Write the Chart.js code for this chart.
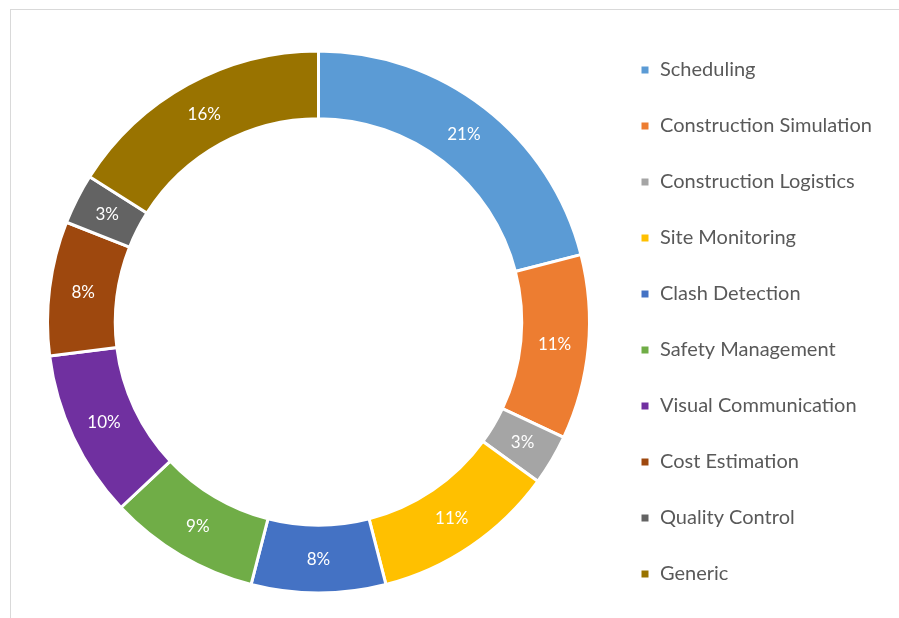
<!DOCTYPE html>
<html>
<head>
<meta charset="utf-8">
<script src="https://cdn.jsdelivr.net/npm/chart.js@4"></script>
<style>
  html, body { margin: 0; padding: 0; background: #fff; overflow: hidden; }
  .frame { position: absolute; left: 10px; top: 9px; width: 1000px; height: 1000px;
           border-top: 1px solid #d9d9d9; border-left: 1px solid #d9d9d9; }
  .wrap { position: absolute; left: 0; top: 0; width: 899px; height: 644px; }
</style>
</head>
<body>
<div class="frame"></div>
<div class="wrap"><canvas id="usesChart"></canvas></div>
<script>
const categories = ['Scheduling', 'Construction Simulation', 'Construction Logistics', 'Site Monitoring',
    'Clash Detection', 'Safety Management', 'Visual Communication', 'Cost Estimation',
    'Quality Control', 'Generic'];
const shares = [21, 11, 3, 11, 8, 9, 10, 8, 3, 16];
const colors = ['#5b9bd5', '#ed7d31', '#a5a5a5', '#ffc000', '#4472c4', '#70ad47', '#7030a0',
    '#9e480e', '#636363', '#997300'];

const legendFont = { family: 'Lato', size: 20 };

// work out right padding so the legend sits where it should
const mctx = document.createElement('canvas').getContext('2d');
mctx.font = legendFont.size + 'px ' + legendFont.family;
const widest = Math.max(...categories.map(c => mctx.measureText(c).width));
const legendPad = 36;
const legendLeft = 640 - legendPad;
const padRight = Math.max(0, 899 - legendLeft - (legendPad + 10 + legendFont.size / 2 + widest + 10));

const pctLabels = {
    id: 'pctLabels',
    afterDatasetsDraw(chart) {
        const ctx = chart.ctx;
        const meta = chart.getDatasetMeta(0);
        ctx.save();
        ctx.font = '17px Lato';
        ctx.fillStyle = '#ffffff';
        ctx.textAlign = 'center';
        ctx.textBaseline = 'middle';
        meta.data.forEach((arc, i) => {
            const p = arc.tooltipPosition();
            ctx.fillText(shares[i] + '%', p.x, p.y);
        });
        ctx.restore();
    }
};

new Chart(document.getElementById('usesChart'), {
    type: 'doughnut',
    data: {
        labels: categories,
        datasets: [{
            data: shares,
            backgroundColor: colors,
            borderColor: '#ffffff',
            borderWidth: 3,
            cutout: '75%',
            radius: 271,
        }]
    },
    options: {
        responsive: true,
        maintainAspectRatio: false,
        animation: false,
        layout: { padding: { left: 33, right: padRight, top: 0, bottom: 0 } },
        plugins: {
            legend: {
                position: 'right',
                align: 'center',
                labels: {
                    boxWidth: 10,
                    boxHeight: 10,
                    padding: legendPad,
                    color: '#595959',
                    font: legendFont
                }
            },
            tooltip: { enabled: false }
        }
    },
    plugins: [pctLabels]
});
</script>
</body>
</html>
